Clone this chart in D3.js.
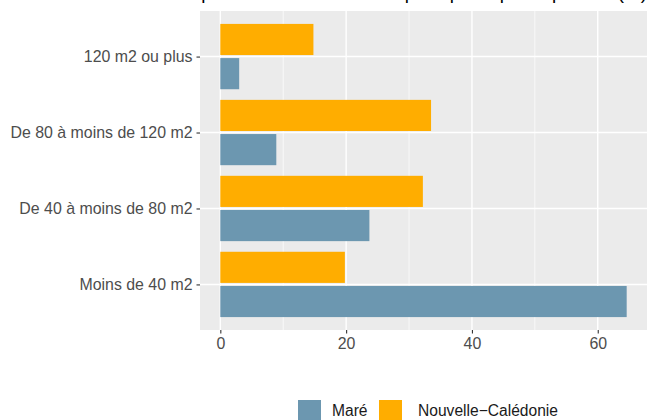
<!DOCTYPE html>
<html>
<head>
<meta charset="utf-8">
<script src="https://cdn.jsdelivr.net/npm/d3@7"></script>
<style>
  body { margin: 0; background: #fff; }
  text { font-family: "Liberation Sans", Arial, sans-serif; }
</style>
</head>
<body>
<svg width="652" height="420"></svg>
<script>
'use strict';

var categories = ["120 m2 ou plus", "De 80 à moins de 120 m2", "De 40 à moins de 80 m2", "Moins de 40 m2"];
var mare = [3.0, 8.9, 23.7, 64.6];
var caledonie = [14.8, 33.5, 32.2, 19.8];
var seriesNames = ["Maré", "Nouvelle−Calédonie"];
var xTicks = [0, 20, 40, 60];
var xMinor = [10, 30, 50];
var title = "Répartition des résidences principales par superficie (%)";

(() => {
  var svg = d3.select('svg');
  var left = 200, right = 647, top = 11, bottom = 330;
  var colors = ['#6C97B0', '#FFAD00'];

  var maxV = d3.max(mare.concat(caledonie));
  var x = d3.scaleLinear()
    .domain([-maxV * 0.05, maxV * 1.05])
    .range([left, right]);
  var y = d3.scalePoint()
    .domain(categories)
    .range([top, bottom])
    .padding(0.6);
  var step = y.step();

  // panel + grid
  svg.append('rect')
    .attr('x', left).attr('y', top)
    .attr('width', right - left).attr('height', bottom - top)
    .attr('fill', '#EBEBEB');
  svg.selectAll('.minor').data(xMinor).enter().append('line')
    .attr('x1', d => x(d)).attr('x2', d => x(d))
    .attr('y1', top).attr('y2', bottom)
    .attr('stroke', '#fff').attr('stroke-width', 0.7);
  svg.selectAll('.major').data(xTicks).enter().append('line')
    .attr('x1', d => x(d)).attr('x2', d => x(d))
    .attr('y1', top).attr('y2', bottom)
    .attr('stroke', '#fff').attr('stroke-width', 1.4);
  svg.selectAll('.hmajor').data(categories).enter().append('line')
    .attr('x1', left).attr('x2', right)
    .attr('y1', d => y(d)).attr('y2', d => y(d))
    .attr('stroke', '#fff').attr('stroke-width', 1.4);

  // bars: Nouvelle-Calédonie above, Maré below
  var rows = categories.map((c, i) => ({cat: c, mare: mare[i], nc: caledonie[i]}));
  var g = svg.append('g');
  g.selectAll('.nc').data(rows).enter().append('rect')
    .attr('x', x(0))
    .attr('y', d => y(d.cat) - 0.43 * step)
    .attr('width', d => x(d.nc) - x(0))
    .attr('height', 0.41 * step)
    .attr('fill', colors[1]);
  g.selectAll('.mare').data(rows).enter().append('rect')
    .attr('x', x(0))
    .attr('y', d => y(d.cat) + 0.02 * step)
    .attr('width', d => x(d.mare) - x(0))
    .attr('height', 0.41 * step)
    .attr('fill', colors[0]);

  // axes
  var xAxis = svg.append('g')
    .attr('transform', `translate(0, ${bottom})`)
    .call(d3.axisBottom(x).tickValues(xTicks).tickSize(3.5).tickPadding(4));
  var yAxis = svg.append('g')
    .attr('transform', `translate(${left}, 0)`)
    .call(d3.axisLeft(y).tickSize(3.5).tickPadding(4));
  [xAxis, yAxis].forEach(a => {
    a.select('.domain').remove();
    a.selectAll('.tick line').attr('stroke', '#333').attr('stroke-width', 1.1);
    a.selectAll('.tick text')
      .attr('fill', '#4D4D4D')
      .style('font-size', '15.9px')
      .style('font-family', '"Liberation Sans", Arial, sans-serif');
  });

  // title (mostly outside the picture, as in the reference)
  svg.append('text')
    .attr('x', right).attr('y', -1.5)
    .attr('text-anchor', 'end')
    .style('font-size', '18.8px')
    .attr('fill', '#000')
    .text(title);

  // legend
  var legend = svg.append('g').attr('transform', 'translate(298, 400)');
  var keyX = [0, 81];
  var labelX = [34, 120];
  seriesNames.forEach((name, i) => {
    legend.append('rect')
      .attr('x', keyX[i]).attr('y', 0)
      .attr('width', 23).attr('height', 23)
      .attr('fill', colors[i]);
    legend.append('text')
      .attr('x', labelX[i]).attr('y', 16)
      .style('font-size', '15.6px')
      .attr('fill', '#1A1A1A')
      .text(name);
  });
})();
</script>
</body>
</html>
